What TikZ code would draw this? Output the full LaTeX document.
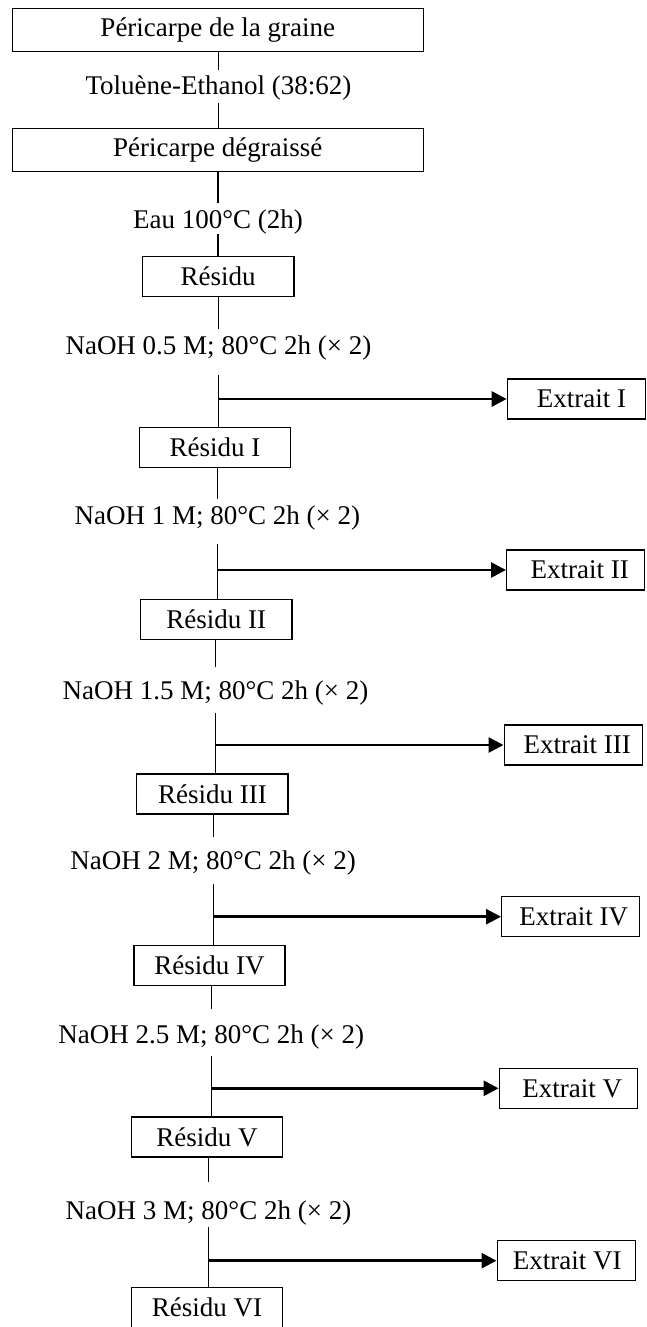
\documentclass[tikz,border=0pt]{standalone}
\usepackage{fontspec}
\setmainfont{Liberation Serif}
\usetikzlibrary{arrows.meta}
\begin{document}
\begin{tikzpicture}[x=1pt,y=-1pt,
  font=\fontsize{27}{32}\selectfont,
  bigbox/.style={draw, line width=1.4pt, minimum width=410.8pt, minimum height=43.4pt, inner sep=0pt},
  resbox/.style={draw, line width=1.4pt, minimum width=151.3pt, minimum height=40pt, inner sep=0pt},
  extbox/.style={draw, line width=1.4pt, minimum width=138pt, minimum height=40pt, inner sep=0pt, anchor=west},
  cond/.style={inner sep=0pt, text height=18pt, text depth=5pt},
  link/.style={line width=1.3pt},
  outarrow/.style={line width=2.7pt, -{Triangle[length=15pt,width=15pt]}}]
\useasboundingbox (0,0) rectangle (646,1327);
\clip (0,0) rectangle (646,1327);

% main column
\node[bigbox] (b1) at (217.8,30) {Péricarpe de la graine};
\node[cond]   (l1) at (218.4,88) {Toluène-Ethanol (38:62)};
\node[bigbox] (b2) at (217.8,150) {Péricarpe dégraissé};
\node[cond]   (l2) at (218.0,221.7) {Eau 100°C (2h)};
\node[resbox] (r0) at (218.2,276.7) {Résidu};
\node[cond]   (l3) at (218.4,348.3) {NaOH 0.5 M; 80°C 2h (× 2)};
\node[resbox] (r1) at (215.1,447.7) {Résidu I};
\node[cond]   (l4) at (217.4,518.3) {NaOH 1 M; 80°C 2h (× 2)};
\node[resbox] (r2) at (216.3,619.3) {Résidu II};
\node[cond]   (l5) at (215.5,693.3) {NaOH 1.5 M; 80°C 2h (× 2)};
\node[resbox] (r3) at (212.4,794) {Résidu III};
\node[cond]   (l6) at (213.2,863.3) {NaOH 2 M; 80°C 2h (× 2)};
\node[resbox] (r4) at (209.5,965.7) {Résidu IV};
\node[cond]   (l7) at (211.2,1036.7) {NaOH 2.5 M; 80°C 2h (× 2)};
\node[resbox] (r5) at (207,1137) {Résidu V};
\node[cond]   (l8) at (208.5,1213.3) {NaOH 3 M; 80°C 2h (× 2)};
\node[resbox] (r6) at (207,1307.7) {Résidu VI};

% extracts
\node[extbox] (e1) at (506.7,399) {\hspace*{10pt}Extrait I};
\node[extbox] (e2) at (506.0,570) {\hspace*{8pt}Extrait II};
\node[extbox] (e3) at (503.5,745) {\hspace*{8pt}Extrait III};
\node[extbox] (e4) at (501.0,916.7) {\hspace*{6pt}Extrait IV};
\node[extbox] (e5) at (498.6,1088.3) {\hspace*{8pt}Extrait V};
\node[extbox] (e6) at (496.5,1260.7) {\hspace*{2pt}Extrait VI};

% junctions
\coordinate (j1) at (218.4,399);
\coordinate (j2) at (217.4,570);
\coordinate (j3) at (215.5,745);
\coordinate (j4) at (213.2,916.7);
\coordinate (j5) at (211.2,1088.3);
\coordinate (j6) at (208.5,1260.7);

% vertical links
\draw[link, shorten >=6.5pt] (b1.south -| l1) -- (l1.north);
\draw[link, shorten <=3.8pt] (l1.south) -- (l1.south |- b2.north);
\draw[link, shorten >=6.9pt] (b2.south -| l2) -- (l2.north);
\draw[link, shorten <=0.1pt] (l2.south) -- (l2.south |- r0.north);
\draw[link, shorten >=7.5pt] (r0.south -| l3) -- (l3.north);
\draw[link, shorten <=15.2pt] (l3.south) -- (l3.south |- r1.north);
\draw[link, shorten >=7.8pt] (r1.south -| l4) -- (l4.north);
\draw[link, shorten <=14.2pt] (l4.south) -- (l4.south |- r2.north);
\draw[link, shorten >=15.1pt] (r2.south -| l5) -- (l5.north);
\draw[link, shorten <=7.5pt] (l5.south) -- (l5.south |- r3.north);
\draw[link, shorten >=14.8pt] (r3.south -| l6) -- (l6.north);
\draw[link, shorten <=8.5pt] (l6.south) -- (l6.south |- r4.north);
\draw[link, shorten >=15.9pt] (r4.south -| l7) -- (l7.north);
\draw[link, shorten <=7.8pt] (l7.south) -- (l7.south |- r5.north);
\draw[link, shorten >=20.1pt] (r5.south -| l8) -- (l8.north);
\draw[link, shorten <=1.9pt] (l8.south) -- (l8.south |- r6.north);

% arrows to extracts
\draw[outarrow] (j1) -- (e1.west);
\draw[outarrow] (j2) -- (e2.west);
\draw[outarrow] (j3) -- (e3.west);
\draw[outarrow] (j4) -- (e4.west);
\draw[outarrow] (j5) -- (e5.west);
\draw[outarrow] (j6) -- (e6.west);
\end{tikzpicture}
\end{document}
